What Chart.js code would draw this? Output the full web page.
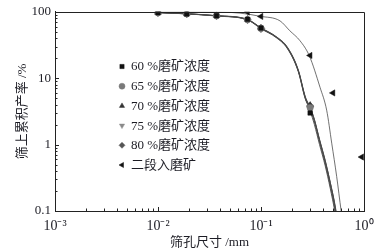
<!DOCTYPE html>
<html><head><meta charset="utf-8">
<script src="https://cdn.jsdelivr.net/npm/chart.js@4/dist/chart.umd.min.js"></script>
<style>html,body{margin:0;padding:0;background:#fff}canvas{display:block}</style>
</head><body>
<canvas id="c" width="385" height="252"></canvas>
<script>
// ---- data ----
const sieveSizes = [0.01, 0.019, 0.037, 0.074, 0.1, 0.3];
const yield60 = [97, 93, 87, 77, 57, 3.0];
const yield65 = [97, 93, 87, 76, 56, 3.6];
const yield70 = [97.5, 93.5, 88, 77, 57, 3.9];
const yield75 = [96.5, 92.5, 86, 75, 55, 3.7];
const yield80 = [97, 93, 87, 76, 56, 3.8];
const stage2Sizes = [0.074, 0.1, 0.3, 0.5, 0.95];
const stage2Yield = [99, 85, 22, 6, 0.65];

// fitted curves
const fitX = [0.01, 0.019, 0.037, 0.074, 0.1, 0.14, 0.18, 0.23, 0.27, 0.3, 0.33, 0.37, 0.42, 0.47, 0.52, 0.56];
const fit60 = [97.6, 93.3, 87, 76.5, 57, 42, 29, 13, 5, 3.2, 2.0, 1.0, 0.48, 0.22, 0.1, 0.05];
const fit65 = [97.6, 93.3, 87, 76, 56.5, 41.5, 28.5, 12.8, 4.9, 3.4, 2.2, 1.1, 0.52, 0.24, 0.11, 0.055];
const fit70 = [97.8, 93.6, 87.6, 77, 57.5, 42.5, 29.5, 13.4, 5.2, 3.7, 2.4, 1.2, 0.58, 0.27, 0.125, 0.06];
const fit75 = [97.3, 93, 86.4, 75.5, 55.5, 41, 28, 12.6, 4.8, 3.5, 2.3, 1.15, 0.55, 0.26, 0.12, 0.058];
const fit80 = [97.6, 93.3, 87, 76, 56.5, 41.8, 28.8, 13.1, 5.05, 3.6, 2.35, 1.18, 0.57, 0.27, 0.13, 0.065];
const fitStage2X = [0.01, 0.04, 0.0625, 0.098, 0.153, 0.19, 0.239, 0.294, 0.374, 0.434, 0.486, 0.543, 0.6, 0.64];
const fitStage2 = [99.9, 99, 95.6, 85.6, 73, 52, 36.7, 21.9, 7.3, 3.3, 1.05, 0.33, 0.1, 0.05];

const legendLabels = ['60 %磨矿浓度', '65 %磨矿浓度', '70 %磨矿浓度', '75 %磨矿浓度', '80 %磨矿浓度', '二段入磨矿'];
const xTickVals = [0.001, 0.01, 0.1, 1];
const xTickLabels = ['10⁻³', '10⁻²', '10⁻¹', '10⁰'];
const yTickVals = [0.1, 1, 10, 100];
const yTickLabels = ['0.1', '1', '10', '100'];
const xTitle = '筛孔尺寸 /mm';
const yTitle = '筛上累积产率 /%';

// ---- styling ----
const FONT = "'Liberation Serif','Noto Sans CJK SC',serif";
const TXT = '#1c1c24';
const pts = (xs, ys) => xs.map((x, i) => ({x: x, y: ys[i]}));
const markerDefs = [
  {style: 'rect', rot: 0, color: '#111111', r: 3.2},
  {style: 'circle', rot: 0, color: '#7a7a7a', r: 3.2},
  {style: 'triangle', rot: 0, color: '#333333', r: 3.8},
  {style: 'triangle', rot: 180, color: '#8a8a8a', r: 3.8},
  {style: 'rectRot', rot: 0, color: '#555555', r: 3.8},
  {style: 'triangle', rot: -90, color: '#111111', r: 3.6}
];
const seriesY = [yield60, yield65, yield70, yield75, yield80];
const fits = [fit60, fit65, fit70, fit75, fit80];

const datasets = [];
fits.forEach(f => datasets.push({
  isFit: true, data: pts(fitX, f), showLine: true, pointRadius: 0,
  borderColor: '#4a4a4a', borderWidth: 0.9, cubicInterpolationMode: 'monotone', order: 2
}));
datasets.push({
  isFit: true, data: pts(fitStage2X, fitStage2), showLine: true, pointRadius: 0,
  borderColor: '#333333', borderWidth: 0.7, cubicInterpolationMode: 'monotone', order: 2
});
seriesY.forEach((ys, i) => datasets.push({
  label: legendLabels[i], data: pts(sieveSizes, ys), showLine: false,
  pointStyle: markerDefs[i].style, rotation: markerDefs[i].rot, pointRadius: markerDefs[i].r,
  backgroundColor: markerDefs[i].color, borderColor: markerDefs[i].color, borderWidth: 0.5, order: 1
}));
datasets.push({
  label: legendLabels[5], data: pts(stage2Sizes, stage2Yield), showLine: false,
  pointStyle: markerDefs[5].style, rotation: markerDefs[5].rot, pointRadius: markerDefs[5].r,
  backgroundColor: markerDefs[5].color, borderColor: markerDefs[5].color, borderWidth: 0.5, order: 0
});

const framePlugin = {
  id: 'frame',
  afterDraw(chart) {
    const ctx = chart.ctx, a = chart.chartArea;
    const xs = chart.scales.x, ys = chart.scales.y;
    ctx.save();
    ctx.strokeStyle = '#222';
    ctx.lineWidth = 1;
    // frame top/right
    ctx.beginPath();
    ctx.moveTo(Math.round(a.left) + 0.5, Math.round(a.top) + 0.5);
    ctx.lineTo(Math.round(a.right) + 0.5, Math.round(a.top) + 0.5);
    ctx.lineTo(Math.round(a.right) + 0.5, Math.round(a.bottom) + 0.5);
    ctx.stroke();
    // inward ticks (major + minor)
    ctx.beginPath();
    for (let e = -3; e < 0; e++) {
      for (let m = 1; m <= 9; m++) {
        const v = m * Math.pow(10, e);
        const px = Math.round(xs.getPixelForValue(v)) + 0.5;
        const len = m === 1 ? 4 : 2.5;
        ctx.moveTo(px, a.bottom); ctx.lineTo(px, a.bottom - len);
      }
    }
    for (let e = -1; e < 2; e++) {
      for (let m = 1; m <= 9; m++) {
        const v = m * Math.pow(10, e);
        const py = Math.round(ys.getPixelForValue(v)) + 0.5;
        const len = m === 1 ? 4 : 2.5;
        ctx.moveTo(a.left, py); ctx.lineTo(a.left + len, py);
      }
    }
    ctx.stroke();
    // legend inside plot
    const lx = 122, ly0 = 66.5, step = 19.7;
    const helpers = Chart.helpers;
    chart.data.datasets.filter(d => !d.isFit).forEach((d, i) => {
      const y = ly0 + i * step;
      const m = markerDefs[i];
      ctx.fillStyle = m.color; ctx.strokeStyle = m.color; ctx.lineWidth = 0.5;
      if (helpers && helpers.drawPoint) {
        helpers.drawPoint(ctx, {pointStyle: m.style, rotation: m.rot, radius: 3, borderWidth: 0.5}, lx, y);
      }
      ctx.fillStyle = TXT;
      ctx.font = "13px " + FONT;
      ctx.textBaseline = 'middle';
      ctx.textAlign = 'left';
      ctx.fillText(d.label, lx + 9, y + 0.5);
    });
    ctx.restore();
  }
};

new Chart(document.getElementById('c'), {
  type: 'scatter',
  data: {datasets: datasets},
  options: {
    responsive: false, animation: false, events: [],
    layout: {padding: {top: 11, right: 21, left: 0, bottom: 0}},
    scales: {
      x: {
        type: 'logarithmic', min: 0.001, max: 1, position: 'bottom',
        afterBuildTicks: s => { s.ticks = xTickVals.map(v => ({value: v})); },
        afterFit: s => { s.height = 41; },
        ticks: {callback: (v, i) => xTickLabels[i], padding: 7, color: TXT,
                font: {family: FONT, size: 14}, maxRotation: 0, autoSkip: false},
        grid: {display: false, drawTicks: false},
        border: {display: true, color: '#222', width: 1},
        title: {display: true, text: xTitle, color: TXT, font: {family: FONT, size: 13}, padding: {top: 0, bottom: 2}}
      },
      y: {
        type: 'logarithmic', min: 0.1, max: 100, position: 'left',
        afterBuildTicks: s => { s.ticks = yTickVals.map(v => ({value: v})); },
        afterFit: s => { s.width = 55; },
        ticks: {callback: (v, i) => yTickLabels[i], padding: 4, color: TXT,
                font: {family: FONT, size: 13}, autoSkip: false},
        grid: {display: false, drawTicks: false},
        border: {display: true, color: '#222', width: 1},
        title: {display: true, text: yTitle, color: TXT, font: {family: FONT, size: 13}, padding: {top: 15, bottom: 0}}
      }
    },
    plugins: {legend: {display: false}, tooltip: {enabled: false}}
  },
  plugins: [framePlugin]
});
</script>
</body></html>
